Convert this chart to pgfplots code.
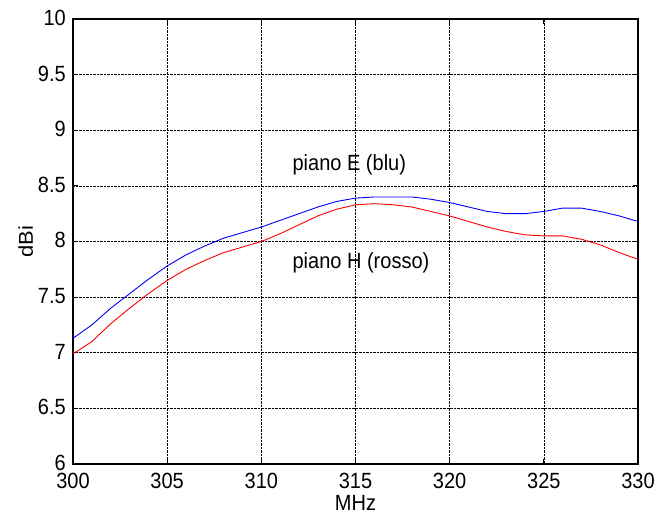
\documentclass[border=0pt]{standalone}
\usepackage{fontspec}
\setmainfont{Liberation Sans}
\usepackage{pgfplots}
\pgfplotsset{compat=1.18}
\begin{document}
\begin{tikzpicture}
\fontsize{20}{24}\selectfont
\begin{axis}[
  name=ax,
  scale only axis,
  width=565pt, height=445pt,
  xmin=300, xmax=330, ymin=6, ymax=10,
  xtick={300,305,...,330},
  ytick={6,6.5,...,10},
  yticklabel style={/pgf/number format/fixed},
  /pgf/number format/assume math mode=true,
  tick label style={font=\fontsize{20}{24}\selectfont, yscale=1.1, inner sep=2pt},
  label style={font=\fontsize{20}{24}\selectfont},
  xticklabel style={yshift=-6pt},
  yticklabel style={xshift=-5pt, yshift=1pt},
  xlabel={MHz}, ylabel={dBi},
  xlabel style={yshift=3pt, yscale=1.1},
  ylabel style={yshift=-4pt, xscale=1.1},
  grid=major,
  major grid style={black, densely dotted, line width=0.6pt},
  tick align=inside,
  major tick length=5pt,
  axis line style={line width=1.3pt},
  every tick/.style={black, line width=0.8pt},
  clip=true,
]
\addplot[blue, line width=0.9pt] coordinates {
(300,7.13) (301,7.25) (302,7.40) (303,7.53) (304,7.66) (305,7.78) (306,7.88) (307,7.96) (308,8.03) (309,8.08) (310,8.13)
(311,8.19) (312,8.25) (313,8.31) (314,8.36) (315,8.39) (316,8.40) (317,8.40) (318,8.40) (319,8.38) (320,8.35)
(321,8.31) (322,8.27) (323,8.25) (324,8.25) (325,8.27) (326,8.30) (327,8.30) (328,8.27) (329,8.23) (330,8.18)};
\addplot[red, line width=0.9pt] coordinates {
(300,6.99) (301,7.10) (302,7.26) (303,7.40) (304,7.53) (305,7.65) (306,7.75) (307,7.83) (308,7.90) (309,7.95) (310,8.00)
(311,8.07) (312,8.15) (313,8.23) (314,8.29) (315,8.33) (316,8.34) (317,8.33) (318,8.31) (319,8.27) (320,8.23)
(321,8.18) (322,8.13) (323,8.09) (324,8.06) (325,8.05) (326,8.05) (327,8.02) (328,7.97) (329,7.90) (330,7.84)};
\node[anchor=west, inner sep=0pt, yscale=1.1] at (axis cs:311.65,8.69) {piano E (blu)};
\node[anchor=west, inner sep=0pt, yscale=1.1] at (axis cs:311.65,7.81) {piano H (rosso)};
\end{axis}
\pgfresetboundingbox
\useasboundingbox ([shift={(-73pt,-51pt)}]ax.south west) rectangle ([shift={(31pt,19pt)}]ax.north east);
\end{tikzpicture}
\end{document}
